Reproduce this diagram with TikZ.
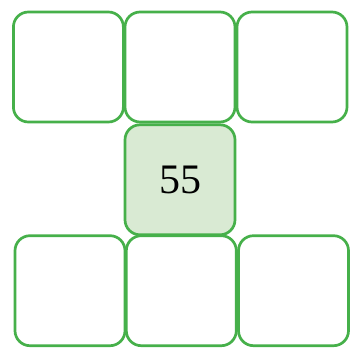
\documentclass[tikz,border=0pt]{standalone}
\usepackage{fontspec}
\setmainfont{Liberation Serif}
\definecolor{boxgreen}{RGB}{70,176,74}
\definecolor{boxfill}{RGB}{217,234,211}
\begin{document}
\begin{tikzpicture}[x=1pt,y=-1pt,
  cell/.style={draw=boxgreen, line width=2.7pt, rounded corners=15pt,
    minimum width=110pt, minimum height=110pt, inner sep=0pt, fill=white},
  keycell/.style={cell, fill=boxfill}]
\useasboundingbox (0,0) rectangle (355,348);
\node[cell] (tl) at (68.4,67) {};
\node[cell] (tm) at (180,67) {};
\node[cell] (tr) at (292,67) {};
\node[cell] (bl) at (70,290.7) {};
\node[cell] (bm) at (181.3,290.7) {};
\node[cell] (br) at (293.5,290.7) {};
\node[keycell] (mid) at (180,179.8) {\fontsize{42}{50}\selectfont 55};
\end{tikzpicture}
\end{document}
